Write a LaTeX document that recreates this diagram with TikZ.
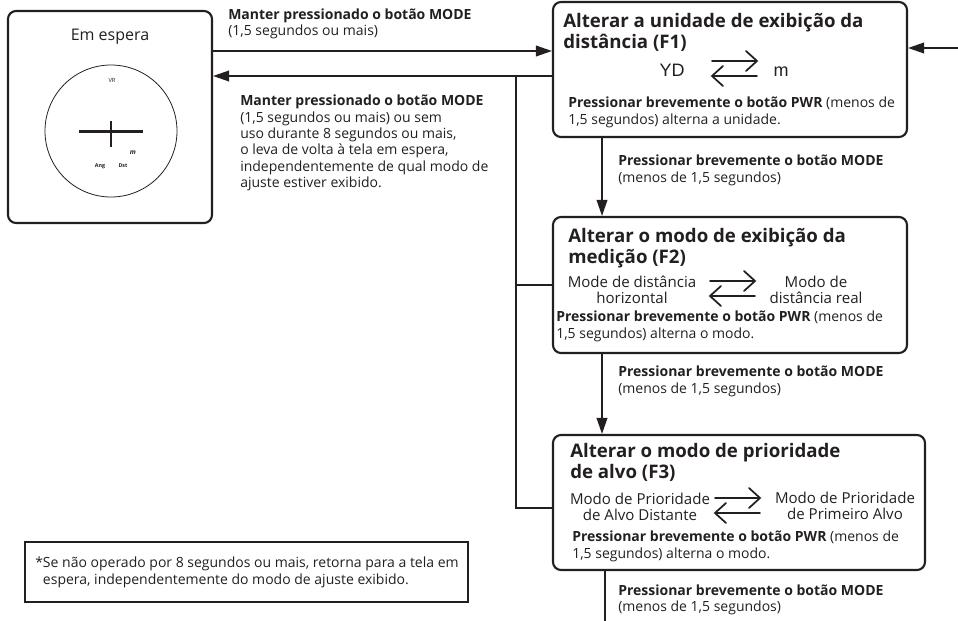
\documentclass[tikz,border=0pt]{standalone}
\usepackage{fontspec}
\setmainfont{Open Sans}
\newfontfamily\unitfont{Liberation Sans}
\usetikzlibrary{arrows.meta,fit}
\definecolor{ink}{RGB}{35,31,32}
\begin{document}
\begin{tikzpicture}[x=0.75pt,y=-0.75pt,
  every node/.style={text=ink, inner sep=0pt},
  frame/.style={draw=ink, line width=1.6pt, rounded corners=6pt, inner sep=0pt},
  notebox/.style={draw=ink, line width=1.6pt, inner sep=0pt},
  conn/.style={draw=ink, line width=1.2pt},
  tipped/.style={conn, -{Triangle[length=12pt,width=8pt]}},
  lbl/.style={anchor=west, align=left, font=\fontsize{10.5}{12.3}\selectfont},
  ttl/.style={anchor=west, align=left, font=\fontsize{14}{15.8}\selectfont\bfseries},
  modetxt/.style={align=center, font=\fontsize{11.3}{12.4}\selectfont},
  unit/.style={anchor=base, font=\fontsize{13.5}{14}\selectfont\unitfont},
  swapline/.style={draw=ink, line width=1.3pt, line cap=round},
  swap/.pic={
    \draw[swapline] (0,0) -- (45,0) (34,-10) -- (45,0) -- (34,10);
    \draw[swapline] (45,15) -- (0,15) (11,5) -- (0,15) -- (11,25);
  }
]
\useasboundingbox (0,0) rectangle (958,621);

% boxes
\node[frame, fit={(8,11) (212,223)}] (sb) {};
\node[frame, fit={(553,2) (907,137)}] (f1) {};
\node[frame, fit={(553,217) (907,353)}] (f2) {};
\node[frame, fit={(553,435) (925,570)}] (f3) {};
\node[notebox, fit={(25,542) (468,602)}] (note) {};

% standby screen
\node[font=\fontsize{12}{14}\selectfont] (se) at (110,37) {Em espera};
\node[draw=ink, circle, minimum size=99pt, line width=0.6pt] (sc) at (111,131) {};
\draw[draw=ink, line width=1.7pt] (79,131.5) -- (143,131.5) (111,121) -- (111,147);
\node[font=\fontsize{4.3}{5}\selectfont] (vr) at (112,80) {VR};
\node[font=\fontsize{5}{5}\selectfont\bfseries\itshape] (mu) at (133,153) {m};
\node[font=\fontsize{4}{5}\selectfont\bfseries] (ang) at (100,166) {Ang};
\node[font=\fontsize{4}{5}\selectfont\bfseries] (dst) at (123,166) {Dst};

% coordinates
\coordinate (y1) at (0,51);
\coordinate (y2) at (0,76);
\coordinate (ja) at (516,76);
\coordinate (jb) at (516,508);
\coordinate (re) at (958,48);
\coordinate (vx) at (602,0);
\coordinate (vo) at (605,621);

% connectors
\draw[tipped] (sb.east |- y1) -- (f1.west |- y1);
\draw[tipped] (f1.west |- y2) -- (sb.east |- y2);
\draw[conn] (ja) -- (jb) -- (f3.west |- jb);
\draw[conn] (ja |- f2.west) -- (f2.west);
\draw[tipped] (re) -- (f1.east |- re);
\draw[tipped] (f1.south -| vx) -- (f2.north -| vx);
\draw[tipped] (f2.south -| vx) -- (f3.north -| vx);
\draw[conn] (f3.south -| vo) -- (vo);

% labels on connectors
\node[lbl] (lt) at (228,24) {\textbf{Manter pressionado o botão MODE}\\(1,5 segundos ou mais)};
\node[lbl] (lr) at (240,143) {\textbf{Manter pressionado o botão MODE}\\(1,5 segundos ou mais) ou sem\\uso durante 8 segundos ou mais,\\o leva de volta à tela em espera,\\independentemente de qual modo de\\ajuste estiver exibido.};
\node[lbl] (l12) at (618,170.5) {\textbf{Pressionar brevemente o botão MODE}\\(menos de 1,5 segundos)};
\node[lbl] (l23) at (618,381.5) {\textbf{Pressionar brevemente o botão MODE}\\(menos de 1,5 segundos)};
\node[lbl] (l3o) at (618,600) {\textbf{Pressionar brevemente o botão MODE}\\(menos de 1,5 segundos)};

% F1
\node[ttl] (t1) at (563,32) {Alterar a unidade de exibição da\\distância (F1)};
\node[unit] (yd) at (672,76) {YD};
\node[unit] (mm) at (781,76) {m};
\pic at (712,61) {swap};
\node[lbl] (p1) at (568,112.5) {\textbf{Pressionar brevemente o botão PWR} (menos de\\1,5 segundos) alterna a unidade.};

% F2
\node[ttl] (t2) at (568,248) {Alterar o modo de exibição da\\medição (F2)};
\node[modetxt] (m2a) at (632,290) {Mode de distância\\horizontal};
\node[modetxt] (m2b) at (816,290) {Modo de\\distância real};
\pic at (710,281) {swap};
\node[lbl] (p2) at (556,326.5) {\textbf{Pressionar brevemente o botão PWR} (menos de\\1,5 segundos) alterna o modo.};

% F3
\node[ttl] (t3) at (570,462.5) {Alterar o modo de prioridade\\de alvo (F3)};
\node[modetxt] (m3a) at (640,507) {Modo de Prioridade\\de Alvo Distante};
\node[modetxt] (m3b) at (845,506) {Modo de Prioridade\\de Primeiro Alvo};
\pic at (715,498) {swap};
\node[lbl] (p3) at (572,546.5) {\textbf{Pressionar brevemente o botão PWR} (menos de\\1,5 segundos) alterna o modo.};

% note
\node[lbl] (nt) at (35,572.5) {*Se não operado por 8 segundos ou mais, retorna para a tela em\\\phantom{*}espera, independentemente do modo de ajuste exibido.};
\end{tikzpicture}
\end{document}
